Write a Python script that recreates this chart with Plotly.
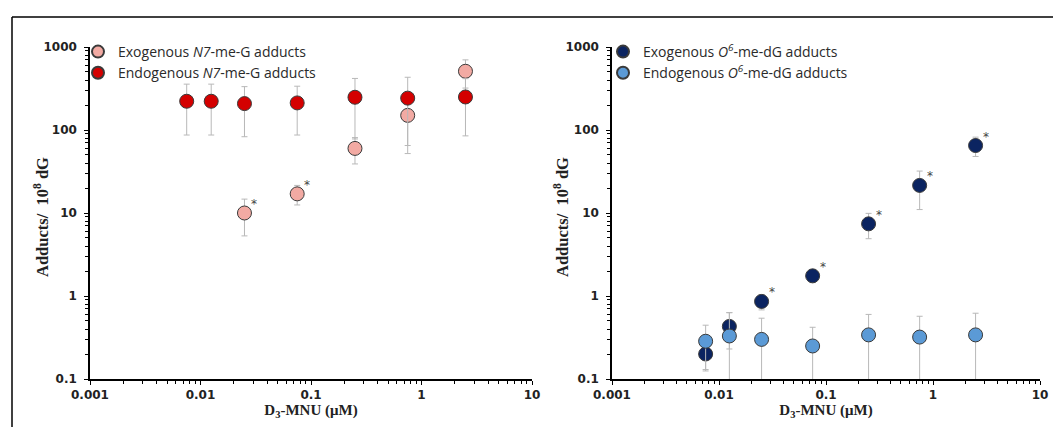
import math
import plotly.graph_objects as go

# ---------------- data ----------------
conc = [0.0075, 0.0125, 0.025, 0.075, 0.25, 0.75, 2.5]

# Left panel: N7-me-G
exo_n7_x = [0.025, 0.075, 0.25, 0.75, 2.5]
exo_n7 = [10, 17, 60, 150, 510]
exo_n7_err = [4.7, 4.5, 21, 85, 190]
exo_n7_sig = [True, True, False, False, False]

endo_n7 = [222, 222, 208, 212, 248, 242, 250]
endo_n7_err = [135, 135, 125, 125, 170, 190, 165]

# Right panel: O6-me-dG
exo_o6 = [0.20, 0.43, 0.86, 1.75, 7.4, 21.5, 65]
exo_o6_err = [0.07, 0.2, 0.18, 0.3, 2.5, 10.5, 17]
exo_o6_sig = [False, False, True, True, True, True, True]

endo_o6 = [0.285, 0.33, 0.30, 0.25, 0.34, 0.32, 0.34]
endo_o6_err = [0.16, 0.3, 0.24, 0.17, 0.26, 0.25, 0.28]

x_ticks = [0.001, 0.01, 0.1, 1, 10]
x_ticktext = ["0.001", "0.01", "0.1", "1", "10"]
y_ticks = [0.1, 1, 10, 100, 1000]
y_ticktext = ["0.1", "1", "10", "100", "1000"]

legend_left = ["Exogenous <i>N7</i>-me-G adducts", "Endogenous <i>N7</i>-me-G adducts"]
legend_right = ["Exogenous <i>O<sup>6</sup></i>-me-dG adducts", "Endogenous <i>O<sup>6</sup></i>-me-dG adducts"]
x_title = "D<sub>3</sub>-MNU (μM)"
y_title = "Adducts/  10<sup>8</sup> dG"

C_PINK = "#f2aaa3"
C_RED = "#d40000"
C_NAVY = "#0b2461"
C_LBLUE = "#5b9ad6"

# page is drawn with an 8px body margin; figure sized to fill the window
OFF = 8
W, H = 1061 - OFF, 427 - OFF

fig = go.Figure()

err_style = dict(type="data", color="#b8b8b8", thickness=1, width=3)
mk_line = dict(color="#3a3a3a", width=1)


def add(x, y, err, color, name, xa, ya, legend):
    fig.add_trace(go.Scatter(
        x=x, y=y, mode="markers", name=name,
        marker=dict(size=14, color=color, line=mk_line),
        error_y=dict(array=err, **err_style),
        xaxis=xa, yaxis=ya, legend=legend,
    ))


add(exo_n7_x, exo_n7, exo_n7_err, C_PINK, legend_left[0], "x", "y", "legend")
add(conc, endo_n7, endo_n7_err, C_RED, legend_left[1], "x", "y", "legend")
add(conc, exo_o6, exo_o6_err, C_NAVY, legend_right[0], "x2", "y2", "legend2")
add(conc, endo_o6, endo_o6_err, C_LBLUE, legend_right[1], "x2", "y2", "legend2")


def px_x(p):
    return (p - OFF) / W


def px_y(p):
    return 1 - (p - OFF) / H


annotations = []
for xs, ys, sig, xr, yr in [(exo_n7_x, exo_n7, exo_n7_sig, "x", "y"),
                             (conc, exo_o6, exo_o6_sig, "x2", "y2")]:
    for xv, yv, s in zip(xs, ys, sig):
        if s:
            annotations.append(dict(
                x=math.log10(xv), y=math.log10(yv), xref=xr, yref=yr, text="*",
                showarrow=False, xshift=10, yshift=9,
                font=dict(family="DejaVu Sans", size=12, color="#444444")))

titlefont = dict(family="Liberation Serif", size=15, color="#222222", weight="bold")
ytitlefont = dict(family="Liberation Serif", size=16.5, color="#222222", weight="bold")
for xc in (41, 561):
    annotations.append(dict(
        x=px_x(xc), y=px_y(217), xref="paper", yref="paper", text=y_title,
        textangle=-90, showarrow=False, xanchor="center", yanchor="middle",
        font=ytitlefont))

minor_x = [m * 10 ** e for e in range(-3, 1) for m in range(2, 10)]
minor_y = [m * 10 ** e for e in range(-1, 3) for m in range(2, 10)]

tickfont = dict(family="DejaVu Sans", size=12, color="#222222", weight="bold")

common_x = dict(
    type="log", range=[-3, 1], tickvals=x_ticks, ticktext=x_ticktext,
    showline=True, linecolor="black", linewidth=1.5, ticks="outside",
    ticklen=4, tickcolor="black", showgrid=False, zeroline=False,
    tickfont=tickfont, automargin=False, ticklabelstandoff=0,
    minor=dict(ticks="outside", ticklen=3, tickcolor="black", tickvals=minor_x, showgrid=False),
    title=dict(text=x_title, font=titlefont, standoff=0),
)
common_y = dict(
    type="log", range=[-1, 3], tickvals=y_ticks, ticktext=y_ticktext,
    showline=True, linecolor="black", linewidth=1.5, ticks="outside",
    ticklen=4, tickcolor="black", showgrid=False, zeroline=False,
    tickfont=tickfont, automargin=False, ticklabelstandoff=5,
    minor=dict(ticks="outside", ticklen=3, tickcolor="black", tickvals=minor_y, showgrid=False),
)

legfont = dict(family="Open Sans", size=14, color="#2a2a2a")

fig.update_layout(
    width=W, height=H,
    margin=dict(l=0, r=0, t=0, b=0),
    paper_bgcolor="white", plot_bgcolor="white",
    xaxis=dict(domain=[px_x(90), px_x(532)], anchor="y", **common_x),
    yaxis=dict(domain=[px_y(379), px_y(47)], anchor="x", **common_y),
    xaxis2=dict(domain=[px_x(612), px_x(1040)], anchor="y2", **common_x),
    yaxis2=dict(domain=[px_y(379), px_y(47)], anchor="x2", **common_y),
    legend=dict(x=px_x(78), y=px_y(36), xanchor="left", yanchor="top",
                bgcolor="rgba(0,0,0,0)", font=legfont, itemsizing="constant",
                tracegroupgap=0),
    legend2=dict(x=px_x(603), y=px_y(36), xanchor="left", yanchor="top",
                 bgcolor="rgba(0,0,0,0)", font=legfont, itemsizing="constant",
                 tracegroupgap=0),
    annotations=annotations,
    shapes=[
        dict(type="line", xref="paper", yref="paper", x0=px_x(12), x1=1, y0=px_y(17), y1=px_y(17),
             line=dict(color="black", width=1.5)),
        dict(type="line", xref="paper", yref="paper", x0=px_x(12), x1=px_x(12), y0=0, y1=px_y(17),
             line=dict(color="black", width=1.5)),
    ],
)

fig.write_html("out.html")
